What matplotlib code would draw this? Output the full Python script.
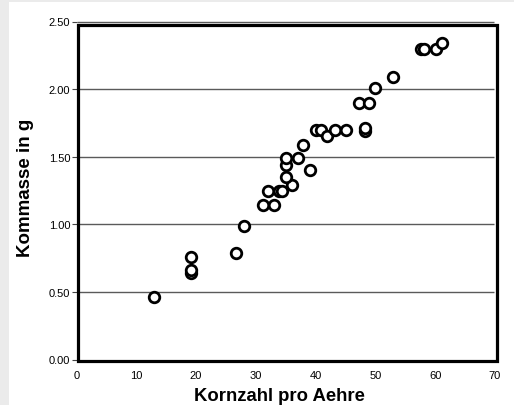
import matplotlib
matplotlib.use("Agg")
import matplotlib.pyplot as plt
from matplotlib.patches import Rectangle

# Data
kornzahl = [13.0, 19.1, 19.1, 19.1, 26.7, 28.1, 31.2, 33.0, 32.1, 33.9, 34.3,
            36.1, 35.0, 35.0, 35.0, 37.0, 39.0, 37.9, 40.1, 40.9, 41.9,
            43.2, 45.0, 48.2, 48.2, 47.2, 49.0, 49.9, 53.0, 57.6, 58.2,
            60.1, 61.1]
kornmasse = [0.46, 0.76, 0.64, 0.66, 0.79, 0.99, 1.14, 1.14, 1.25, 1.25, 1.25,
             1.29, 1.35, 1.44, 1.49, 1.49, 1.40, 1.59, 1.70, 1.70, 1.65,
             1.70, 1.70, 1.69, 1.71, 1.90, 1.90, 2.01, 2.09, 2.30, 2.30,
             2.30, 2.34]
xticks = [0, 10, 20, 30, 40, 50, 60, 70]
yticks = [0.0, 0.5, 1.0, 1.5, 2.0, 2.5]
xlabel = "Kornzahl pro Aehre"
ylabel = "Kommasse in g"

plt.rcParams['font.family'] = ['Liberation Sans', 'DejaVu Sans']

W, H = 514, 406
fig = plt.figure(figsize=(W / 100, H / 100), dpi=100)
fig.patch.set_facecolor('#ebebeb')
bg = Rectangle((9 / W, 0), 1 - 9 / W, (H - 3) / H,
               transform=fig.transFigure, facecolor='white',
               edgecolor='none', zorder=-10)
fig.add_artist(bg)

ax = fig.add_axes([76.5 / W, (H - 360.5) / H, (495 - 76.5) / W, (360.5 - 22.5) / H])
ax.set_zorder(1)
ax.set_facecolor('none')
ax.set_xlim(0, 70)
ax.set_ylim(0, 2.5)
for s in ax.spines.values():
    s.set_visible(False)

# gridlines
ax.hlines(yticks[1:], 0, 69.8, colors='#5a5a5a', lw=1.0, clip_on=False, zorder=1)

# frame
ax.add_patch(Rectangle((0.2, -0.01), 70.2, 2.483, fill=False, edgecolor='black',
                       lw=2.3, clip_on=False, zorder=3))

ax.plot(kornzahl, kornmasse, linestyle='none', marker='o', markersize=7.6,
        markerfacecolor='white', markeredgecolor='black', markeredgewidth=2.0,
        zorder=4, clip_on=False)

ax.set_xticks(xticks)
ax.set_xticklabels([str(v) for v in xticks])
ax.set_yticks(yticks)
ax.set_yticklabels([f"{v:.2f}" for v in yticks])
ax.tick_params(axis='x', length=0, pad=7.5, labelsize=8)
ax.tick_params(axis='y', length=3.5, width=0.8, color='#444444', pad=1, labelsize=8)

ax.set_xlabel(xlabel, fontsize=13.3, fontweight='bold')
ax.xaxis.set_label_coords(0.486, -0.106)
ax.xaxis.label.set_va('center')
ax.set_ylabel(ylabel, fontsize=13.5, fontweight='bold')
ax.yaxis.set_label_coords(-0.122, 0.511)
ax.yaxis.label.set_va('center')

fig.savefig('out.png', dpi=100, facecolor=fig.get_facecolor())
